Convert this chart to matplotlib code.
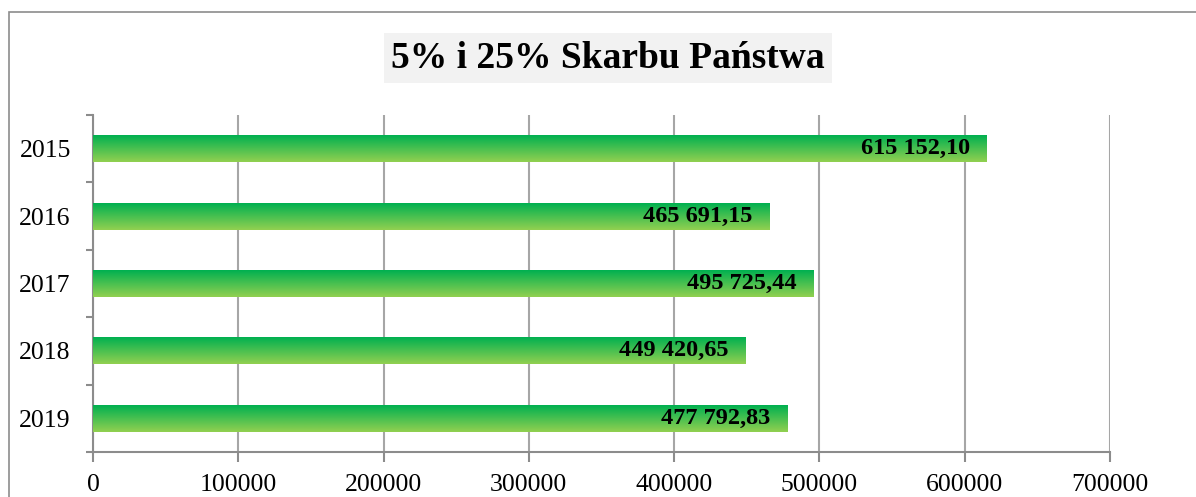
import matplotlib
matplotlib.use("Agg")
import matplotlib.pyplot as plt
import numpy as np
from matplotlib.patches import Rectangle
from matplotlib.colors import LinearSegmentedColormap

years = ["2015", "2016", "2017", "2018", "2019"]
values = [615152.10, 465691.15, 495725.44, 449420.65, 477792.83]
value_labels = ["615 152,10", "465 691,15", "495 725,44", "449 420,65", "477 792,83"]
x_ticks = [0, 100000, 200000, 300000, 400000, 500000, 600000, 700000]
title = "5% i 25% Skarbu Państwa"

W, H = 1196, 497
fig = plt.figure(figsize=(W / 100, H / 100), dpi=100)
fig.patch.set_facecolor("white")

# outer frame
fig.patches.append(Rectangle((9 / W, -0.1), 1.2, (H - 12) / H + 0.1,
                             transform=fig.transFigure, fill=False,
                             edgecolor="#8c8c8c", linewidth=1.2))

ax = fig.add_axes([93 / W, (H - 452) / H, 1017 / W, (452 - 115) / H])
serif = ["Liberation Serif", "DejaVu Serif"]

pos = np.arange(len(years))
bars = ax.barh(pos, values, height=0.4, color="none", edgecolor="none", zorder=3)

cmap = LinearSegmentedColormap.from_list("g", ["#00B050", "#92D050"])
grad = np.linspace(0, 1, 256).reshape(-1, 1)
for b in bars:
    x0, y0 = b.get_x(), b.get_y()
    w, h = b.get_width(), b.get_height()
    ax.imshow(grad, cmap=cmap, aspect="auto", extent=(x0, x0 + w, y0 + h, y0),
              origin="upper", zorder=3, interpolation="bilinear")

for p, v, lab in zip(pos, values, value_labels):
    ax.annotate(lab, xy=(v, p), xytext=(-17, 0), textcoords="offset pixels",
                ha="right", va="center", fontsize=17.5, fontweight="bold",
                family=serif, color="black", zorder=4)

ax.set_xlim(0, 700000)
ax.set_ylim(len(years) - 0.5, -0.5)
ax.set_xticks(x_ticks)
ax.set_xticklabels([str(t) for t in x_ticks], family=serif, fontsize=18.5)
ax.set_yticks(pos)
ax.set_yticklabels(years, family=serif, fontsize=18.5)
ax.set_yticks(np.arange(-0.5, len(years), 1.0), minor=True)

ax.tick_params(axis="y", which="major", length=0, pad=16)
ax.tick_params(axis="y", which="minor", length=5, width=1.5, color="#8c8c8c", direction="out")
ax.tick_params(axis="x", which="major", length=7, width=1.5, color="#8c8c8c", direction="out", pad=9)

ax.grid(axis="x", color="#a6a6a6", linewidth=1.5, zorder=0)
ax.set_axisbelow(True)
for s in ["top", "right"]:
    ax.spines[s].set_visible(False)
for s in ["left", "bottom"]:
    ax.spines[s].set_color("#8c8c8c")
    ax.spines[s].set_linewidth(1.5)

fig.text(608 / W, 1 - 58 / H, title, ha="center", va="center", fontsize=27,
         fontweight="bold", family=serif,
         bbox=dict(boxstyle="square,pad=0.2", facecolor="#F2F2F2", edgecolor="none"))

fig.savefig("out.png", dpi=100, facecolor="white")
